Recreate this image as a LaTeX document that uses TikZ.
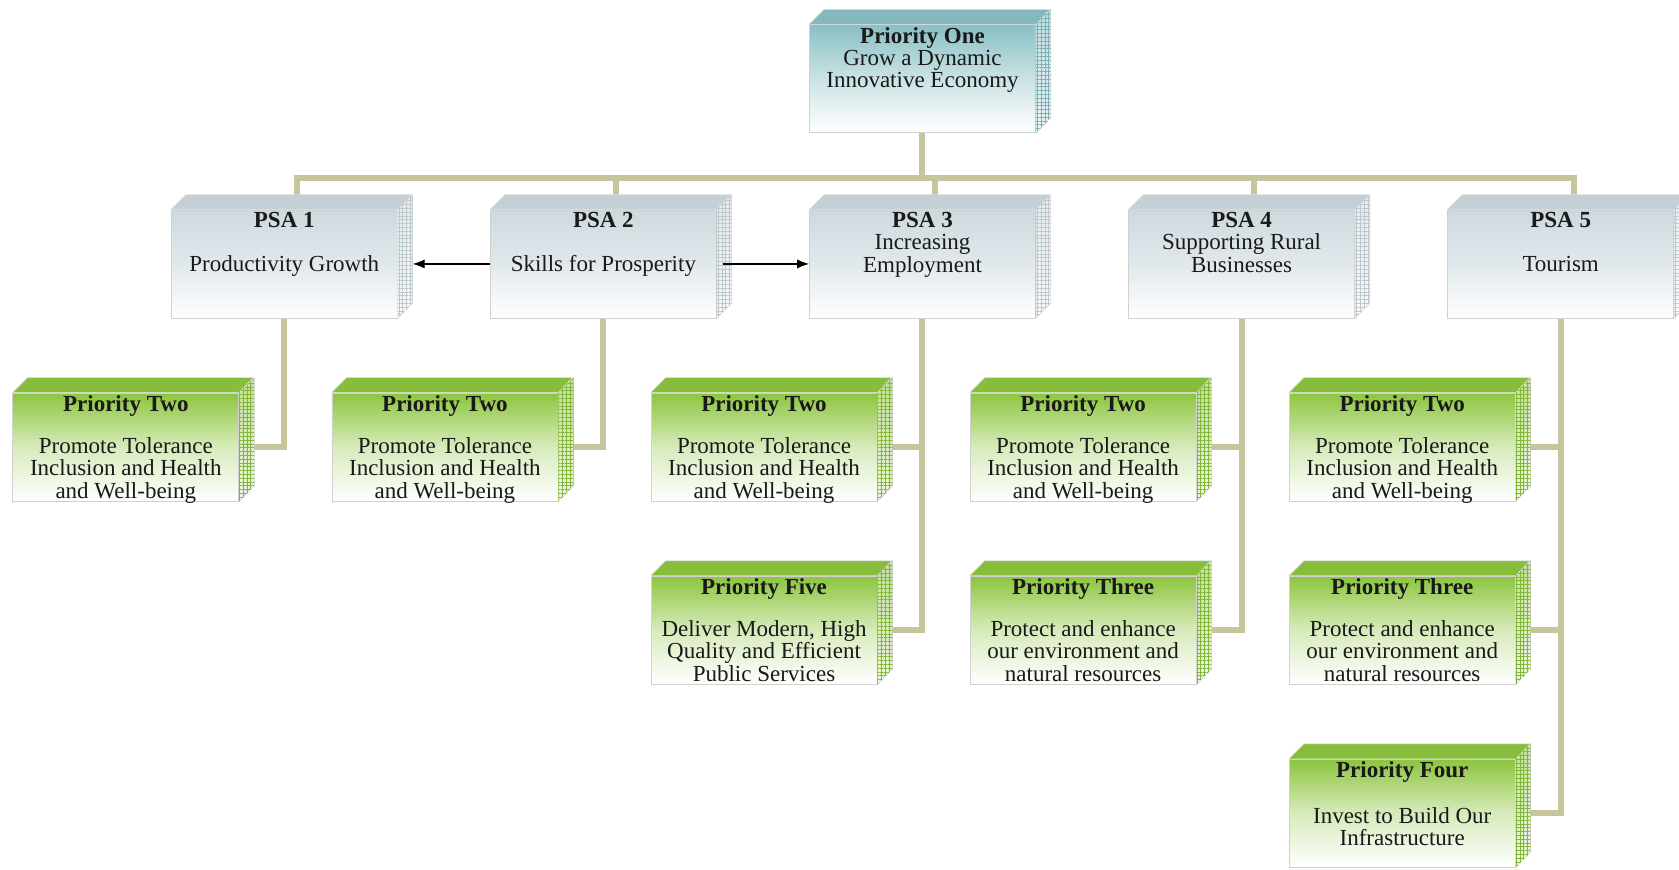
\documentclass[tikz,border=0pt]{standalone}
\usepackage{fontspec}
\setmainfont{Liberation Serif}
\usetikzlibrary{arrows.meta,backgrounds,patterns.meta}

\definecolor{linkc}{RGB}{198,197,156}
\definecolor{onec}{RGB}{137,192,196}
\definecolor{psac}{RGB}{205,217,223}
\definecolor{prc}{RGB}{141,197,62}
\definecolor{inkc}{RGB}{25,25,25}

\begin{document}
\begin{tikzpicture}[x=0.5354pt, y=-0.5354pt,
    face/.style={rectangle, draw=black!18, line width=0.4pt, inner sep=0pt,
        minimum width=113pt, minimum height=54pt},
    onebox/.style={face, top color=onec, bottom color=white, middle color=onec!45},
    psabox/.style={face, top color=psac, bottom color=white, middle color=psac!60},
    prbox/.style={face, top color=prc, bottom color=white, middle color=prc!35},
    boxtext/.style={anchor=north, inner sep=0pt, yshift=-1.2pt, align=center, text=inkc,
        font=\fontsize{11.5pt}{11.2pt}\selectfont},
    link/.style={linkc, line width=3pt},
    arr/.style={-{Latex[length=6pt,width=4.6pt]}, line width=0.6pt, black}]

    \useasboundingbox (0,0) rectangle (1568,812);

    % Boxes
    \node[onebox] (one) at (861.5,73.5) {};

    \node[psabox] (psa1) at (265.5,246.5) {};
    \node[psabox] (psa2) at (563.5,246.5) {};
    \node[psabox] (psa3) at (861.5,246.5) {};
    \node[psabox] (psa4) at (1159.5,246.5) {};
    \node[psabox] (psa5) at (1457.5,246.5) {};

    \node[prbox] (pr1) at (117.5,417.5) {};
    \node[prbox] (pr2) at (415.5,417.5) {};
    \node[prbox] (pr3a) at (713.5,417.5) {};
    \node[prbox] (pr3b) at (713.5,588.5) {};
    \node[prbox] (pr4a) at (1011.5,417.5) {};
    \node[prbox] (pr4b) at (1011.5,588.5) {};
    \node[prbox] (pr5a) at (1309.5,417.5) {};
    \node[prbox] (pr5b) at (1309.5,588.5) {};
    \node[prbox] (pr5c) at (1309.5,759.5) {};

    % top and side faces
    \foreach \b/\c in {one/onec, psa1/psac, psa2/psac, psa3/psac, psa4/psac, psa5/psac,
                       pr1/prc, pr2/prc, pr3a/prc, pr3b/prc, pr4a/prc, pr4b/prc,
                       pr5a/prc, pr5b/prc, pr5c/prc} {
        \fill[\c!96!black, draw=black!12, line width=0.3pt]
            (\b.north west) -- ++(14,-14) -- ++(211,0) -- (\b.north east) -- cycle;
        \fill[top color=\c!55, bottom color=\c!15, draw=black!12, line width=0.3pt]
            (\b.north east) -- ++(14,-14) -- ++(0,101) -- (\b.south east) -- cycle;
        \fill[pattern={Hatch[angle=0,distance=1.9pt,line width=0.3pt]}, pattern color=\c!92!black]
            (\b.north east) -- ++(14,-14) -- ++(0,101) -- (\b.south east) -- cycle;
    }

    % Texts
    \node[boxtext] (onet) at (one.north) {\textbf{Priority One}\\Grow a Dynamic\\Innovative Economy};

    \node[boxtext] (psa1t) at (psa1.north) {\textbf{PSA 1}\\[10.8pt]Productivity Growth};
    \node[boxtext] (psa2t) at (psa2.north) {\textbf{PSA 2}\\[10.8pt]Skills for Prosperity};
    \node[boxtext] (psa3t) at (psa3.north) {\textbf{PSA 3}\\Increasing\\Employment};
    \node[boxtext] (psa4t) at (psa4.north) {\textbf{PSA 4}\\Supporting Rural\\Businesses};
    \node[boxtext] (psa5t) at (psa5.north) {\textbf{PSA 5}\\[10.8pt]Tourism};

    \foreach \b in {pr1, pr2, pr3a, pr4a, pr5a} {
        \node[boxtext] (\b t) at (\b.north) {\textbf{Priority Two}\\[9.7pt]Promote Tolerance\\Inclusion and Health\\and Well-being};
    }
    \node[boxtext] (pr3bt) at (pr3b.north) {\textbf{Priority Five}\\[9.7pt]Deliver Modern, High\\Quality and Efficient\\Public Services};
    \node[boxtext] (pr4bt) at (pr4b.north) {\textbf{Priority Three}\\[9.7pt]Protect and enhance\\our environment and\\natural resources};
    \node[boxtext] (pr5bt) at (pr5b.north) {\textbf{Priority Three}\\[9.7pt]Protect and enhance\\our environment and\\natural resources};
    \node[boxtext] (pr5ct) at (pr5c.north) {\textbf{Priority Four}\\[11.5pt]Invest to Build Our\\Infrastructure};

    % Edges
    \begin{scope}[on background layer]
        \draw[link] (one.south) -- ++(0,42) coordinate (bar);
        \foreach \i in {1,...,5} {
            \draw[link] (bar) -| ([xshift=6.4pt]psa\i.north);
        }
        \draw[link] (psa1.south) |- (pr1.east);
        \draw[link] (psa2.south) |- (pr2.east);
        \draw[link] (psa3.south) |- (pr3a.east);
        \draw[link] (psa3.south) |- (pr3b.east);
        \draw[link] (psa4.south) |- (pr4a.east);
        \draw[link] (psa4.south) |- (pr4b.east);
        \draw[link] (psa5.south) |- (pr5a.east);
        \draw[link] (psa5.south) |- (pr5b.east);
        \draw[link] (psa5.south) |- (pr5c.east);
    \end{scope}

    \draw[arr] (psa2.west) -- ([xshift=7.5pt]psa1.east);
    \draw[arr] ([xshift=3pt]psa2.east) -- (psa3.west);
\end{tikzpicture}
\end{document}
